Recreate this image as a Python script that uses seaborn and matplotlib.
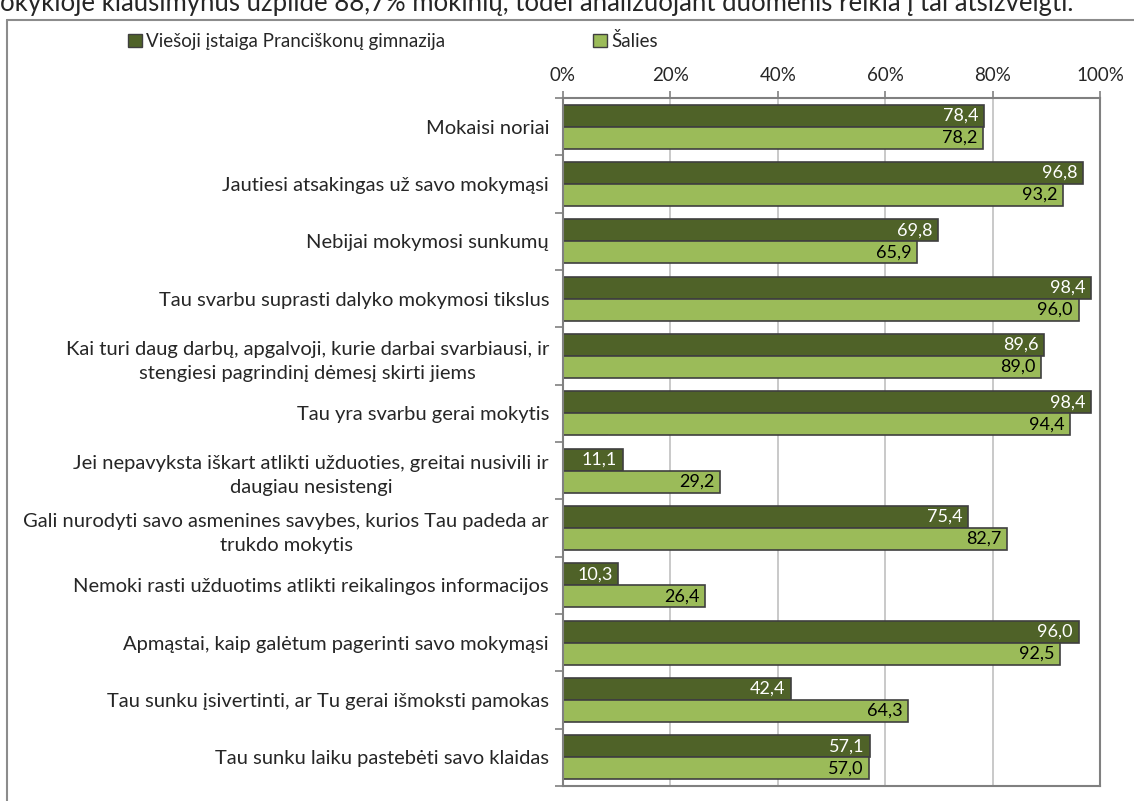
import matplotlib
matplotlib.use("Agg")
import matplotlib.pyplot as plt
import seaborn as sns
import pandas as pd
from matplotlib.patches import Patch
from matplotlib.lines import Line2D
from matplotlib.ticker import FixedLocator, FuncFormatter

categories = [
    "Mokaisi noriai",
    "Jautiesi atsakingas už savo mokymąsi",
    "Nebijai mokymosi sunkumų",
    "Tau svarbu suprasti dalyko mokymosi tikslus",
    "Kai turi daug darbų, apgalvoji, kurie darbai svarbiausi, ir\nstengiesi pagrindinį dėmesį skirti jiems",
    "Tau yra svarbu gerai mokytis",
    "Jei nepavyksta iškart atlikti užduoties, greitai nusivili ir\ndaugiau nesistengi",
    "Gali nurodyti savo asmenines savybes, kurios Tau padeda ar\ntrukdo mokytis",
    "Nemoki rasti užduotims atlikti reikalingos informacijos",
    "Apmąstai, kaip galėtum pagerinti savo mokymąsi",
    "Tau sunku įsivertinti, ar Tu gerai išmoksti pamokas",
    "Tau sunku laiku pastebėti savo klaidas",
]
school = [78.4, 96.8, 69.8, 98.4, 89.6, 98.4, 11.1, 75.4, 10.3, 96.0, 42.4, 57.1]
country = [78.2, 93.2, 65.9, 96.0, 89.0, 94.4, 29.2, 82.7, 26.4, 92.5, 64.3, 57.0]
series_names = ["Viešoji įstaiga Pranciškonų gimnazija", "Šalies"]
x_ticks = [0, 20, 40, 60, 80, 100]
top_note = "okykloje klausimynus užpildė 88,7% mokinių, todėl analizuojant duomenis reikia į tai atsižvelgti."

colors = ["#4F6228", "#9BBB59"]
text_colors = ["white", "black"]

df = pd.DataFrame({
    "category": categories * 2,
    "series": [series_names[0]] * len(categories) + [series_names[1]] * len(categories),
    "value": school + country,
})

sns.set_theme(style="white")
plt.rcParams["font.family"] = ["Lato", "DejaVu Sans"]

fig = plt.figure(figsize=(11.34, 8.01), dpi=100)
ax = fig.add_axes([563 / 1134, 1 - 786 / 801, (1100 - 563) / 1134, (786 - 98) / 801])

sns.barplot(data=df, y="category", x="value", hue="series", order=categories,
            hue_order=series_names, palette=colors, orient="h", width=0.77,
            edgecolor="#3F3F3F", linewidth=1.2, ax=ax, legend=False, saturation=1)

for cont, tc in zip(ax.containers, text_colors):
    for p in cont:
        w = p.get_width()
        ax.annotate(f"{w:.1f}".replace(".", ","), (w, p.get_y() + p.get_height() / 2),
                    xytext=(-4, 0), textcoords="offset points", ha="right", va="center",
                    color=tc, fontsize=13)

n = len(categories)
ax.set_xlim(0, 100)
ax.set_ylim(n - 0.5, -0.5)
ax.xaxis.set_major_locator(FixedLocator(x_ticks))
ax.xaxis.set_major_formatter(FuncFormatter(lambda v, _: f"{int(v)}%"))
ax.xaxis.tick_top()
ax.tick_params(axis="x", which="major", direction="out", length=5, width=1.2,
               color="#808080", labelsize=13.5, pad=5, top=True, bottom=False)
ax.grid(axis="x", color="#C0C0C0", linewidth=1.2)
ax.set_axisbelow(True)

ax.yaxis.set_major_locator(FixedLocator([i - 0.5 for i in range(n + 1)]))
ax.yaxis.set_major_formatter(FuncFormatter(lambda v, _: ""))
ax.yaxis.set_minor_locator(FixedLocator(list(range(n))))
ax.set_yticklabels(categories, minor=True)
ax.tick_params(axis="y", which="major", direction="out", length=6, width=1.2, color="#808080", left=True)
ax.tick_params(axis="y", which="minor", length=0, pad=10, labelsize=14.5)
for lab in ax.get_yticklabels(minor=True):
    lab.set_multialignment("center")
    lab.set_linespacing(1.5)

ax.set_xlabel("")
ax.set_ylabel("")
for s in ax.spines.values():
    s.set_visible(True)
    s.set_color("#808080")
    s.set_linewidth(1.5)

handles = [Patch(facecolor=c, edgecolor="#3F3F3F", linewidth=1) for c in colors]
fig.legend(handles, series_names, loc="center left", bbox_to_anchor=(128 / 1134, 1 - 41 / 801),
           ncol=2, frameon=False, fontsize=13.5, handlelength=0.75, handleheight=0.75,
           handletextpad=0.2, columnspacing=7.9, borderaxespad=0, borderpad=0)

fig.text(0.0, 1 - 11 / 801, top_note, ha="left", va="baseline", fontsize=18.5)
fig.add_artist(Line2D([7 / 1134, 1], [1 - 20 / 801, 1 - 20 / 801], color="#8C8C8C", linewidth=1.5))
fig.add_artist(Line2D([7 / 1134, 7 / 1134], [0, 1 - 20 / 801], color="#8C8C8C", linewidth=1.5))

fig.savefig("out.png", dpi=100)
